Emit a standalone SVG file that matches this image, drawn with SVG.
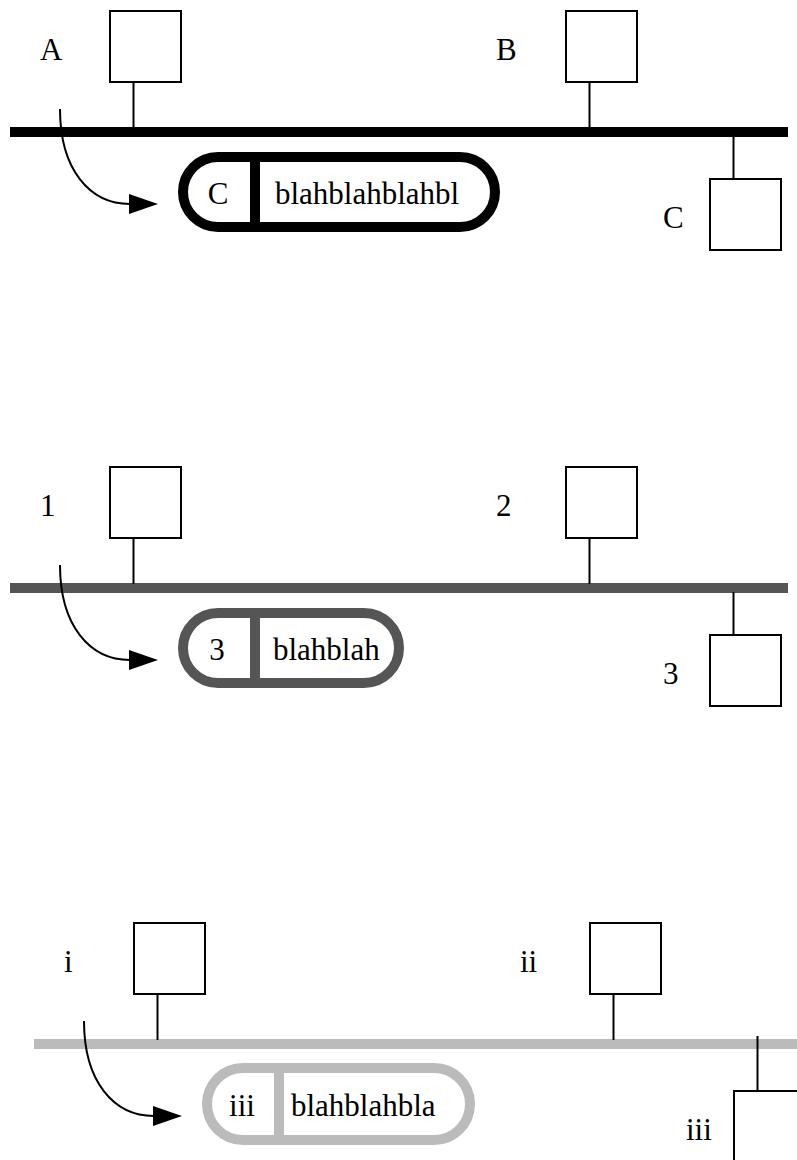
<svg xmlns="http://www.w3.org/2000/svg" width="797" height="1160" viewBox="0 0 797 1160">
<defs>
<style>
.box{fill:#fff;stroke:#000;stroke-width:2}
.stem{fill:none;stroke:#000;stroke-width:2}
.arc{fill:none;stroke:#000;stroke-width:2}
.lbl{font-family:"Liberation Serif","Times New Roman",serif;font-size:31px;fill:#000}
.mid{text-anchor:middle}
.pill{fill:#fff;stroke-width:10}
.bus{stroke-width:10;fill:none}
.s1{stroke:#000}
.s2{stroke:#555}
.s3{stroke:#bbb}
</style>
<marker id="ah" markerUnits="userSpaceOnUse" markerWidth="30" markerHeight="20" refX="1" refY="10" orient="auto">
<path d="M0,0 L29,10 L0,20 z" fill="#000"/>
</marker>
</defs>
<rect width="797" height="1160" fill="#fff"/>

<!-- Section 1 -->
<g id="section1">
  <g id="bus1"><line class="bus s1" x1="10" y1="132" x2="788" y2="132"/></g>
  <g id="connectors1">
    <line class="stem" x1="133.5" y1="82" x2="133.5" y2="128"/>
    <line class="stem" x1="589.5" y1="82" x2="589.5" y2="128"/>
    <line class="stem" x1="733.5" y1="136" x2="733.5" y2="179"/>
    <path class="arc" d="M60,109 C60,170 90,204 130,204" marker-end="url(#ah)"/>
  </g>
  <g id="nodeA"><rect class="box" x="110" y="11" width="71" height="71"/><text class="lbl" x="40" y="60">A</text></g>
  <g id="nodeB"><rect class="box" x="566" y="11" width="71" height="71"/><text class="lbl" x="496" y="60">B</text></g>
  <g id="nodeC"><rect class="box" x="710" y="179" width="71" height="71"/><text class="lbl" x="663" y="228">C</text></g>
  <g id="pill1">
    <rect class="pill s1" x="183" y="157" width="312" height="70" rx="35" ry="35"/>
    <line class="s1" stroke-width="10" x1="255" y1="157" x2="255" y2="227"/>
    <text class="lbl mid" x="218" y="204">C</text>
    <text class="lbl" x="275" y="204">blahblahblahbl</text>
  </g>
</g>

<!-- Section 2 -->
<g id="section2" transform="translate(0,456)">
  <g id="bus2"><line class="bus s2" x1="10" y1="132" x2="788" y2="132"/></g>
  <g id="connectors2">
    <line class="stem" x1="133.5" y1="82" x2="133.5" y2="128"/>
    <line class="stem" x1="589.5" y1="82" x2="589.5" y2="128"/>
    <line class="stem" x1="733.5" y1="136" x2="733.5" y2="179"/>
    <path class="arc" d="M60,109 C60,170 90,204 130,204" marker-end="url(#ah)"/>
  </g>
  <g id="node1"><rect class="box" x="110" y="11" width="71" height="71"/><text class="lbl" x="40" y="60">1</text></g>
  <g id="node2"><rect class="box" x="566" y="11" width="71" height="71"/><text class="lbl" x="496" y="60">2</text></g>
  <g id="node3"><rect class="box" x="710" y="179" width="71" height="71"/><text class="lbl" x="663" y="228">3</text></g>
  <g id="pill2">
    <rect class="pill s2" x="183" y="157" width="216" height="70" rx="35" ry="35"/>
    <line class="s2" stroke-width="10" x1="255" y1="157" x2="255" y2="227"/>
    <text class="lbl mid" x="217" y="204">3</text>
    <text class="lbl" x="273" y="204">blahblah</text>
  </g>
</g>

<!-- Section 3 -->
<g id="section3" transform="translate(24,912)">
  <g id="bus3"><line class="bus s3" x1="10" y1="132" x2="800" y2="132"/></g>
  <g id="connectors3">
    <line class="stem" x1="133.5" y1="82" x2="133.5" y2="128"/>
    <line class="stem" x1="589.5" y1="82" x2="589.5" y2="128"/>
    <line class="stem" x1="733.5" y1="124" x2="733.5" y2="179"/>
    <path class="arc" d="M60,109 C60,170 90,204 130,204" marker-end="url(#ah)"/>
  </g>
  <g id="nodei"><rect class="box" x="110" y="11" width="71" height="71"/><text class="lbl" x="40" y="60">i</text></g>
  <g id="nodeii"><rect class="box" x="566" y="11" width="71" height="71"/><text class="lbl" x="496" y="60">ii</text></g>
  <g id="nodeiii"><rect class="box" x="710" y="179" width="71" height="71"/><text class="lbl" x="662" y="228">iii</text></g>
  <g id="pill3">
    <rect class="pill s3" x="183" y="156" width="263" height="72" rx="36" ry="36"/>
    <line class="s3" stroke-width="10" x1="255" y1="156" x2="255" y2="228"/>
    <text class="lbl mid" x="218" y="204">iii</text>
    <text class="lbl" x="267" y="204">blahblahbla</text>
  </g>
</g>
</svg>
